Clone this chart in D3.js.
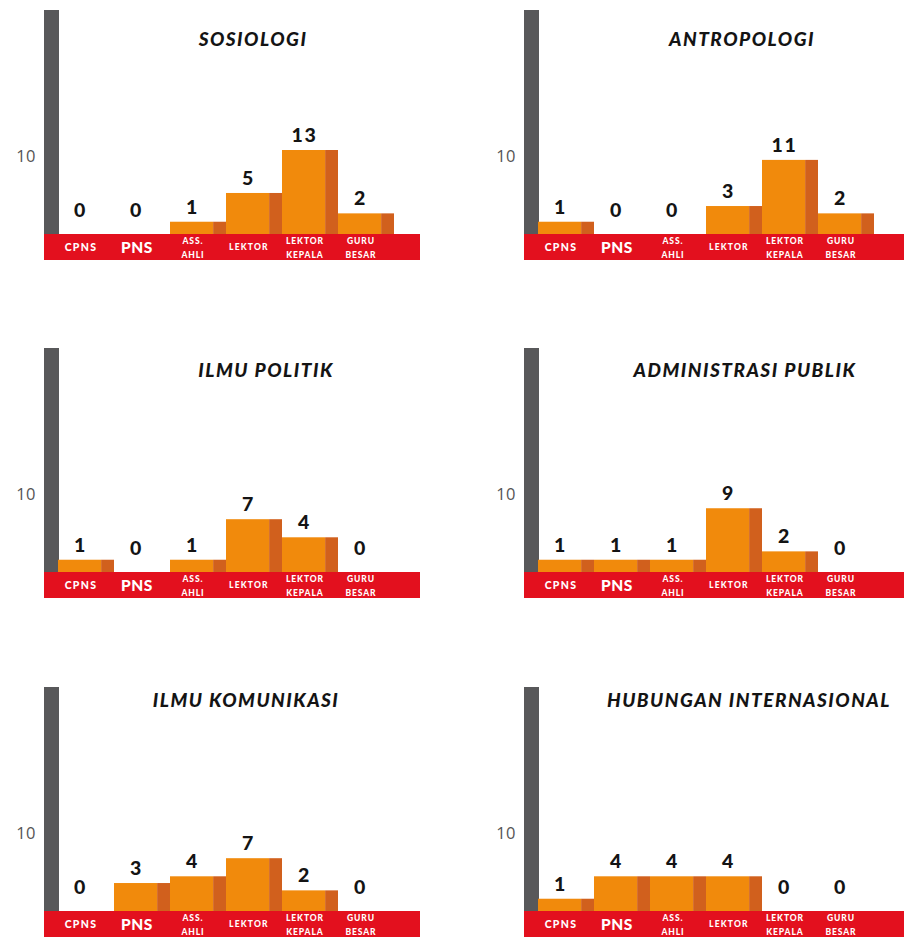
<!DOCTYPE html>
<html>
<head>
<meta charset="utf-8">
<script src="https://cdn.jsdelivr.net/npm/d3@7"></script>
<style>
  html, body { margin: 0; padding: 0; background: #fff; }
  svg { display: block; }
</style>
</head>
<body>
<script>
// ---- data ----
const categories = ["CPNS", "PNS", "ASS. AHLI", "LEKTOR", "LEKTOR KEPALA", "GURU BESAR"];
const categoryLines = [["CPNS"], ["PNS"], ["ASS.", "AHLI"], ["LEKTOR"], ["LEKTOR", "KEPALA"], ["GURU", "BESAR"]];
const departments = ["SOSIOLOGI", "ANTROPOLOGI", "ILMU POLITIK", "ADMINISTRASI PUBLIK", "ILMU KOMUNIKASI", "HUBUNGAN INTERNASIONAL"];
const sosiologi = [0, 0, 1, 5, 13, 2];
const antropologi = [1, 0, 0, 3, 11, 2];
const ilmuPolitik = [1, 0, 1, 7, 4, 0];
const administrasiPublik = [1, 1, 1, 9, 2, 0];
const ilmuKomunikasi = [0, 3, 4, 7, 2, 0];
const hubunganInternasional = [1, 4, 4, 4, 0, 0];
const tickValues = [10];
const series = [sosiologi, antropologi, ilmuPolitik, administrasiPublik, ilmuKomunikasi, hubunganInternasional];

// ---- layout ----
const W = 904, H = 940;
const colX = [0, 480];
const rowBase = [234, 572, 911];
const titleDy = [-195, -202, -211];
const titleCx = [253, 262, 266, 265, 246, 269];
const colors = { axis: "#58585a", band: "#e3101e", front: "#f18a0c", side: "#d1601d", text: "#141414" };

const svg = d3.select("body").append("svg").attr("width", W).attr("height", H);

const x = d3.scaleBand().domain(categories).range([58, 394]).paddingInner(0).paddingOuter(0);
const bw = x.bandwidth();

const labelStyle = {
  "CPNS": { size: 10.5, ls: 1.3 },
  "PNS": { size: 15.5, ls: 0.6 },
  "LEKTOR": { size: 8.5, ls: 1.2 }
};

departments.forEach((dept, i) => {
  const col = i % 2, row = Math.floor(i / 2);
  const base = rowBase[row];
  const g = svg.append("g").attr("transform", `translate(${colX[col]},0)`);
  const y = d3.scalePow().exponent(0.75).domain([0, 13]).range([base, base - 84]);
  const vals = series[i];
  const bandRight = col === 0 ? 420 : W - colX[col];

  // gray axis bar
  g.append("rect").attr("x", 44).attr("y", base - 224).attr("width", 15).attr("height", 224)
    .attr("fill", colors.axis);

  // tick label(s)
  g.selectAll("text.tick").data(tickValues).join("text").attr("class", "tick")
    .attr("x", 36).attr("y", d => y(d) - 3)
    .attr("text-anchor", "end")
    .attr("font-family", "'Open Sans', 'Noto Sans', sans-serif")
    .attr("font-size", 16.5).attr("letter-spacing", 0.5).attr("fill", "#555")
    .text(d => d);

  // title
  g.append("text").attr("x", titleCx[i]).attr("y", base + titleDy[row] + 6.5)
    .attr("text-anchor", "middle")
    .attr("font-family", "Lato, 'Open Sans', sans-serif")
    .attr("font-weight", 900).attr("font-style", "italic")
    .attr("font-size", 19).attr("letter-spacing", 1.5).attr("fill", colors.text)
    .text(dept);

  // bars
  const data = categories.map((c, k) => ({ c, v: vals[k], lines: categoryLines[k] }));
  const bars = g.selectAll("g.bar").data(data.filter(d => d.v > 0)).join("g").attr("class", "bar");
  bars.append("rect")
    .attr("x", d => x(d.c)).attr("y", d => y(d.v))
    .attr("width", bw * 0.77).attr("height", d => base - y(d.v))
    .attr("fill", colors.front);
  bars.append("rect")
    .attr("x", d => x(d.c) + bw * 0.77).attr("y", d => y(d.v))
    .attr("width", bw * 0.23).attr("height", d => base - y(d.v))
    .attr("fill", colors.side);

  // value labels
  g.selectAll("text.val").data(data).join("text").attr("class", "val")
    .attr("x", d => x(d.c) + bw * 0.4)
    .attr("y", d => Math.min(y(d.v), base - 9) - 8)
    .attr("text-anchor", "middle")
    .attr("font-family", "Lato, 'Open Sans', sans-serif")
    .attr("font-weight", 900).attr("font-size", 19.5).attr("letter-spacing", 1.5)
    .attr("fill", colors.text)
    .text(d => d.v);

  // red category band
  g.append("rect").attr("x", 44).attr("y", base).attr("width", bandRight - 44).attr("height", 26)
    .attr("fill", colors.band);

  // category labels
  const lab = g.selectAll("text.cat").data(data).join("text").attr("class", "cat")
    .attr("text-anchor", "middle")
    .attr("font-family", "Lato, 'Open Sans', sans-serif")
    .attr("font-weight", 900).attr("fill", "#fff");
  lab.each(function (d) {
    const t = d3.select(this);
    const cx = x(d.c) + bw * 0.41;
    if (d.lines.length === 1) {
      const st = labelStyle[d.c];
      t.attr("x", cx).attr("y", base + 13).attr("dominant-baseline", "central")
        .attr("font-size", st.size).attr("letter-spacing", st.ls).text(d.lines[0]);
    } else {
      t.attr("font-size", 8.5).attr("letter-spacing", 0.9);
      t.selectAll("tspan").data(d.lines).join("tspan")
        .attr("x", cx).attr("y", (l, j) => base + 10 + j * 13.5)
        .text(l => l);
    }
  });
});
</script>
</body>
</html>
